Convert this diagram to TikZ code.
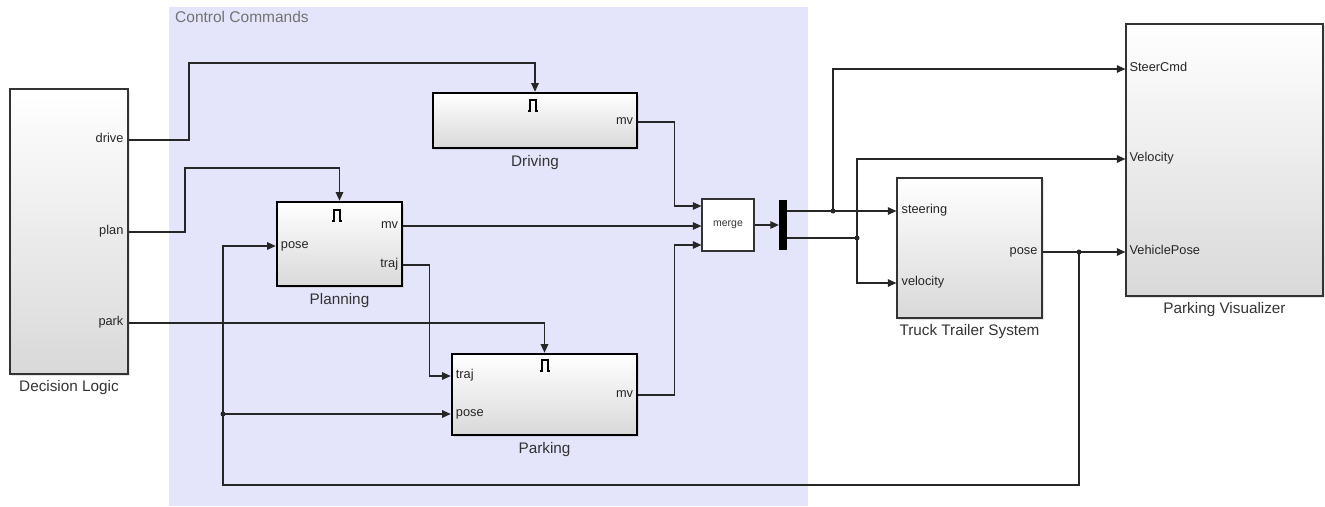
\documentclass[tikz,border=0pt]{standalone}
\usepackage{fontspec}
\setmainfont{Liberation Sans}
\usetikzlibrary{arrows.meta,positioning,shadows}

\definecolor{areablue}{RGB}{228,228,251}

\begin{document}
\begin{tikzpicture}[
      x=1pt, y=-1pt,
      blk/.style={
        draw=black!80, line width=1.2pt,
        top color=white, bottom color=black!15,
        drop shadow={shadow xshift=2pt, shadow yshift=-2pt, opacity=.2}},
      subsys/.style={blk, draw=black, line width=2.6pt},
      port/.style={font=\fontsize{12.8}{13}\selectfont, inner sep=0pt,
        text height=8.5pt, text depth=2.7pt, text=black!85},
      lbl/.style={font=\fontsize{15.3}{16}\selectfont, inner sep=0pt, text=black!80},
      wire/.style={draw=black!85, line width=1.1pt, -{Triangle[length=8.5pt,width=7.5pt]}},
      plain/.style={draw=black!85, line width=1.1pt},
      dot/.style={circle, fill=black!85, inner sep=0pt, minimum size=5pt},
      trig/.pic={\draw[line width=1.1pt] (-5,6) -- (-3,6) -- (-3,-5) -- (3,-5) -- (3,6) -- (5,6);},
    ]
    \useasboundingbox (0,0) rectangle (1325,506);

    % subsystem area
    \fill[areablue] (169,7) rectangle (808,506);
    \node[anchor=base west, inner sep=0pt, text=black!55,
      font=\fontsize{15.5}{16}\selectfont] (cc) at (175,22) {Control Commands};

    % blocks
    \node[blk, minimum width=118, minimum height=285] (dl) at (69,231.5) {};
    \node[subsys, minimum width=204, minimum height=55] (drv) at (535,120.5) {};
    \node[subsys, minimum width=125, minimum height=84] (pln) at (339.5,244) {};
    \node[subsys, minimum width=185, minimum height=81] (prk) at (544.5,394.5) {};
    \node[draw=black!80, line width=1.2pt, fill=white, minimum width=52, minimum height=52,
      font=\fontsize{10.5}{11}\selectfont, text=black!80] (mrg) at (728,225) {merge};
    \node[fill=black, inner sep=0pt, minimum width=8, minimum height=50] (bar) at (783,225) {};
    \node[blk, minimum width=145, minimum height=140] (tts) at (969.5,248) {};
    \node[blk, minimum width=197, minimum height=272] (viz) at (1224.5,160) {};

    \node[lbl, below=6pt of dl] (dl-lbl) {Decision Logic};
    \node[lbl, below=6pt of drv] (drv-lbl) {Driving};
    \node[lbl, below=6pt of pln] (pln-lbl) {Planning};
    \node[lbl, below=6pt of prk] (prk-lbl) {Parking};
    \node[lbl, below=6pt of tts] (tts-lbl) {Truck Trailer System};
    \node[lbl, below=6pt of viz] (viz-lbl) {Parking Visualizer};

    \pic at (533,105) {trig};
    \pic at (337,215) {trig};
    \pic at (545,365) {trig};

    % ports
    \node[port, anchor=east] (dl-drive) at ([xshift=-5pt]dl.east |- 0,140) {drive};
    \node[port, anchor=east] (dl-plan)  at ([xshift=-5pt]dl.east |- 0,232) {plan};
    \node[port, anchor=east] (dl-park)  at ([xshift=-5pt]dl.east |- 0,323) {park};
    \node[port, anchor=east] (drv-mv)   at ([xshift=-5pt]drv.east |- 0,122) {mv};
    \node[port, anchor=west] (pln-pose) at ([xshift=5pt]pln.west |- 0,246) {pose};
    \node[port, anchor=east] (pln-mv)   at ([xshift=-5pt]pln.east |- 0,226) {mv};
    \node[port, anchor=east] (pln-traj) at ([xshift=-5pt]pln.east |- 0,265) {traj};
    \node[port, anchor=west] (prk-traj) at ([xshift=5pt]prk.west |- 0,376) {traj};
    \node[port, anchor=west] (prk-pose) at ([xshift=5pt]prk.west |- 0,414) {pose};
    \node[port, anchor=east] (prk-mv)   at ([xshift=-5pt]prk.east |- 0,395) {mv};
    \node[port, anchor=west] (tts-steer) at ([xshift=5pt]tts.west |- 0,211) {steering};
    \node[port, anchor=west] (tts-vel)   at ([xshift=5pt]tts.west |- 0,283) {velocity};
    \node[port, anchor=east] (tts-pose)  at ([xshift=-5pt]tts.east |- 0,252) {pose};
    \node[port, anchor=west] (viz-steer) at ([xshift=4pt]viz.west |- 0,69) {SteerCmd};
    \node[port, anchor=west] (viz-vel)   at ([xshift=4pt]viz.west |- 0,159) {Velocity};
    \node[port, anchor=west] (viz-pose)  at ([xshift=4pt]viz.west |- 0,252) {VehiclePose};

    \coordinate (m1) at (mrg.west |- 0,206);
    \coordinate (m2) at (mrg.west |- 0,226);
    \coordinate (m3) at (mrg.west |- 0,245);
    \coordinate (b1) at (bar.east |- 0,211);
    \coordinate (b2) at (bar.east |- 0,238);

    \node[dot] (j1) at (833,211) {};
    \node[dot] (j2) at (857,238) {};
    \node[dot] (j3) at (1079,252) {};
    \node[dot] (j4) at (223,414) {};

    % signals
    \draw[wire] (dl.east |- dl-drive) -| (189,63) -| (drv.north);
    \draw[wire] (dl.east |- dl-plan) -| (185,168) -| (pln.north);
    \draw[wire] (dl.east |- dl-park) -| (prk.north);
    \draw[wire] (drv.east |- drv-mv) -- ++(36,0) |- (m1);
    \draw[wire] (pln.east |- pln-mv) -- (m2);
    \draw[wire] (prk.east |- prk-mv) -- ++(36,0) |- (m3);
    \draw[wire] (pln.east |- pln-traj) -- ++(26,0) |- (prk.west |- prk-traj);
    \draw[wire] (mrg) -- (bar);

    \draw[wire] (b1) -- (tts.west |- tts-steer);
    \draw[wire] (j1.center) |- (viz.west |- viz-steer);
    \draw[plain] (b2) -- (j2.center);
    \draw[wire] (j2.center) |- (viz.west |- viz-vel);
    \draw[wire] (j2.center) |- (tts.west |- tts-vel);
    \draw[wire] (tts.east |- tts-pose) -- (viz.west |- viz-pose);

    % pose feedback
    \draw[wire] (j3.center) |- (223,485) |- (pln.west |- pln-pose);
    \draw[wire] (j4.center) -- (prk.west |- prk-pose);
  \end{tikzpicture}
\end{document}
